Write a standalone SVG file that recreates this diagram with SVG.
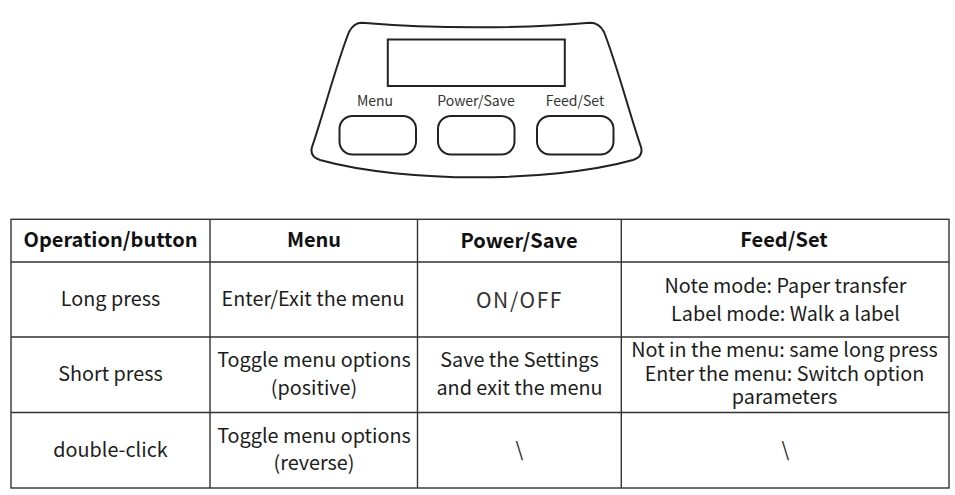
<svg xmlns="http://www.w3.org/2000/svg" width="955" height="495" viewBox="0 0 955 495">
<style>
text{font-family:"Noto Sans CJK SC","Noto Sans",sans-serif;fill:#1c1c1c;text-anchor:middle}
.b{font-size:20px;font-weight:700;fill:#111}
.c{font-size:19.8px}
.m{font-size:14px;fill:#333}
.o{fill:none;stroke:#222;stroke-width:2}
.g{fill:none;stroke:#333;stroke-width:1.4}
</style>
<rect width="955" height="495" fill="#fff"/>
<g id="panel">
<path class="o" d="M362 22.7C395 25.5 440 27.3 476.5 27.3C513 27.3 558 25.5 590 22.7C596 22.7 601 26 604 32C616 62 630 115 641 147C643 154 639 158 633 160C590 172 530 177.3 476.5 177.3C423 177.3 363 172 320 160C314 158 310 154 312 147C323 115 337 62 349 32C352 26 356 22.7 362 22.7Z"/>
</g>
<g id="display"><rect class="o" x="387.8" y="39.5" width="177" height="46.5"/></g>
<g id="btn-menu"><rect class="o" x="339.5" y="116" width="76.5" height="38.6" rx="13" ry="13"/><text class="m" x="375" y="106">Menu</text></g>
<g id="btn-power"><rect class="o" x="438" y="116" width="76.5" height="38.6" rx="13" ry="13"/><text class="m" x="476" y="106">Power/Save</text></g>
<g id="btn-feed"><rect class="o" x="537" y="116" width="76.5" height="38.6" rx="13" ry="13"/><text class="m" x="575" y="106">Feed/Set</text></g>
<g id="table-grid">
<rect class="g" x="11" y="219.3" width="938" height="268.7"/>
<path class="g" d="M11 262H949M11 337H949M11 412.5H949M210 219.3V488M417.5 219.3V488M621.3 219.3V488"/>
</g>
<g id="header">
<text class="b" x="110.5" y="246.5">Operation/button</text>
<text class="b" x="314" y="246.5">Menu</text>
<text class="b" x="519" y="247.5">Power/Save</text>
<text class="b" x="784" y="246.5">Feed/Set</text>
</g>
<g id="row-long">
<text class="c" x="110.5" y="306">Long press</text>
<text class="c" x="313" y="306">Enter/Exit the menu</text>
<text class="c" x="519.5" y="307.5" style="font-size:21px;letter-spacing:1.6px;fill:#333">ON/OFF</text>
<text class="c" x="785.5" y="292.5">Note mode: Paper transfer</text>
<text class="c" x="785.5" y="320.5">Label mode: Walk a label</text>
</g>
<g id="row-short">
<text class="c" x="110.5" y="381">Short press</text>
<text class="c" x="314" y="367">Toggle menu options</text>
<text class="c" x="314" y="394.5">(positive)</text>
<text class="c" x="519.5" y="367">Save the Settings</text>
<text class="c" x="519.5" y="394.5">and exit the menu</text>
<text class="c" x="784.5" y="357">Not in the menu: same long press</text>
<text class="c" x="784.5" y="381">Enter the menu: Switch option</text>
<text class="c" x="784.5" y="404">parameters</text>
</g>
<g id="row-double">
<text class="c" x="110.5" y="457">double-click</text>
<text class="c" x="314" y="443">Toggle menu options</text>
<text class="c" x="314" y="470">(reverse)</text>
<text class="c" x="519.5" y="457">\</text>
<text class="c" x="785.5" y="457">\</text>
</g>
</svg>
